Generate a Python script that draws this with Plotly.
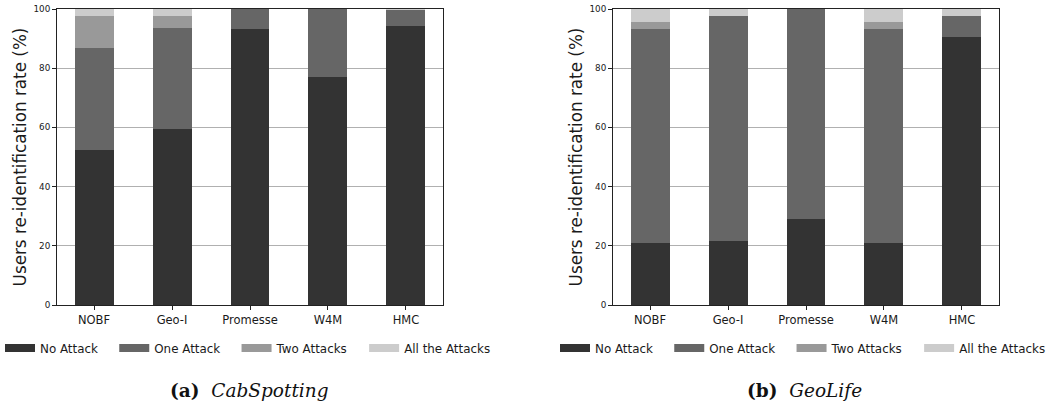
import plotly.graph_objects as go

categories = ["NOBF", "Geo-I", "Promesse", "W4M", "HMC"]
series_names = ["No Attack", "One Attack", "Two Attacks", "All the Attacks"]

# (a) CabSpotting
cab_no_attack = [52.5, 59.3, 93.2, 77.0, 94.1]
cab_one_attack = [34.3, 34.3, 7.6, 23.0, 5.6]
cab_two_attacks = [10.9, 4.1, 0.0, 0.0, 0.0]
cab_all_attacks = [2.3, 2.3, 0.0, 0.0, 1.1]

# (b) GeoLife
geo_no_attack = [21.0, 21.5, 29.1, 21.0, 90.4]
geo_one_attack = [72.3, 76.2, 71.8, 72.3, 7.3]
geo_two_attacks = [2.2, 0.0, 0.0, 2.2, 0.0]
geo_all_attacks = [4.5, 2.3, 0.0, 4.5, 2.3]

y_ticks = [0, 20, 40, 60, 80, 100]
captions = ["(a)", "(b)"]
dataset_names = ["CabSpotting", "GeoLife"]
y_title = "Users re-identification rate (%)"

colors = ["#333333", "#666666", "#999999", "#cccccc"]
FONT = "DejaVu Sans"
TXT = "#1a1a1a"

W, H = 1051, 407


def px(x):
    return x / W


def py(y):
    return 1 - y / H


fig = go.Figure()

panels = [
    [cab_no_attack, cab_one_attack, cab_two_attacks, cab_all_attacks],
    [geo_no_attack, geo_one_attack, geo_two_attacks, geo_all_attacks],
]

PAD = "\u00a0" * 3
for p, series in enumerate(panels):
    xa = "x" if p == 0 else "x2"
    ya = "y" if p == 0 else "y2"
    lg = "legend" if p == 0 else "legend2"
    for name, vals, col in zip(series_names, series, colors):
        fig.add_trace(go.Bar(
            x=categories, y=vals, name=name, width=0.5,
            marker=dict(color=col, line=dict(width=0)),
            xaxis=xa, yaxis=ya, showlegend=False,
            legendgroup=f"{p}-{name}",
        ))
    # legend entries (wide rectangular swatches like the original)
    for i, (name, col) in enumerate(zip(series_names, colors)):
        label = name + (PAD if i < len(series_names) - 1 else "")
        fig.add_trace(go.Scatter(
            x=[None], y=[None], mode="lines", name=label,
            line=dict(color=col, width=8),
            xaxis=xa, yaxis=ya, legend=lg, legendgroup=f"{p}-{name}",
            hoverinfo="skip",
        ))

ydom = [py(305), py(9)]
xdoms = [[px(57), px(443)], [px(613), px(999)]]

common_x = dict(
    range=[-0.475, 4.475], showline=True, mirror=True, linecolor="#222222",
    linewidth=1, ticks="outside", ticklen=4, tickwidth=1, tickcolor="#222222",
    tickfont=dict(family=FONT, size=11.5, color=TXT), showgrid=False,
    zeroline=False, fixedrange=True, automargin=False,
)
common_y = dict(
    range=[0, 100], tickvals=y_ticks, showline=True, mirror=True,
    linecolor="#222222", linewidth=1, ticks="outside", ticklen=4, tickwidth=1,
    tickcolor="#222222", tickfont=dict(family=FONT, size=8.8, color=TXT),
    showgrid=True, gridcolor="#b0b0b0", gridwidth=1, zeroline=False,
    title=dict(text=y_title, font=dict(family=FONT, size=16.8, color=TXT), standoff=2),
    fixedrange=True, automargin=False,
)

fig.update_layout(
    width=W, height=H,
    margin=dict(l=0, r=0, t=0, b=0),
    paper_bgcolor="white", plot_bgcolor="white",
    barmode="stack", bargap=0,
    xaxis=dict(domain=xdoms[0], anchor="y", **common_x),
    yaxis=dict(domain=ydom, anchor="x", **common_y),
    xaxis2=dict(domain=xdoms[1], anchor="y2", **common_x),
    yaxis2=dict(domain=ydom, anchor="x2", **common_y),
    legend=dict(
        orientation="h", x=0, xanchor="left", y=py(348), yanchor="middle",
        font=dict(family=FONT, size=11.9, color=TXT), bgcolor="rgba(0,0,0,0)",
        traceorder="normal",
    ),
    legend2=dict(
        orientation="h", x=1, xanchor="right", y=py(348), yanchor="middle",
        font=dict(family=FONT, size=11.9, color=TXT), bgcolor="rgba(0,0,0,0)",
        traceorder="normal",
    ),
)

caption_x = [px(249), px(804)]
for cap, name, cx in zip(captions, dataset_names, caption_x):
    fig.add_annotation(
        xref="paper", yref="paper", x=cx, y=py(390),
        xanchor="center", yanchor="middle", showarrow=False,
        text=f"<b>{cap}</b>&nbsp;&nbsp;<i>{name}</i>",
        font=dict(family="DejaVu Serif", size=18.5, color="#111111"),
    )

# remove the default 8px page margin so the figure fills the window exactly
fig.write_html(
    "out.html",
    config={"displayModeBar": False},
    post_script="document.body.style.margin='0';",
)
